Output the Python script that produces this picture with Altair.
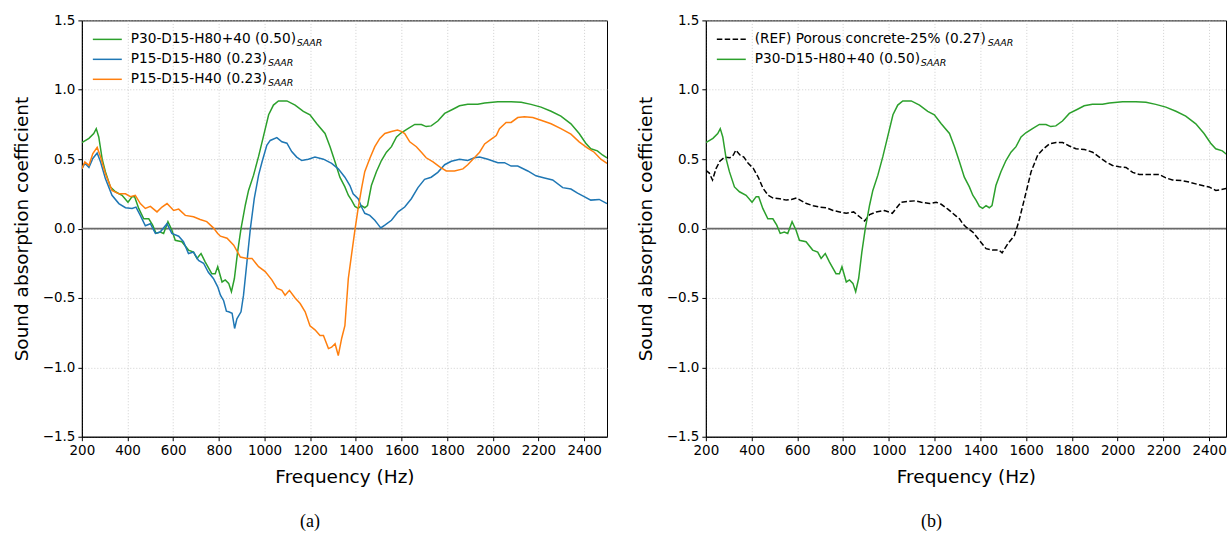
import altair as alt
import pandas as pd

# ---------------- data ----------------
FREQ_G = [200, 231, 252, 263, 274, 289, 303, 325, 347, 376, 402, 420, 431, 449, 471, 493, 510, 525, 543, 558,
          577, 594, 609, 638, 667, 689, 704, 722, 740, 769, 784, 795, 814, 828, 843, 855, 868, 882, 897, 916,
          930, 952, 974, 996, 1018, 1039, 1061, 1098, 1134, 1170, 1199, 1229, 1265, 1287, 1309, 1330, 1352, 1367,
          1381, 1396, 1410, 1425, 1439, 1451, 1468, 1490, 1512, 1534, 1556, 1578, 1599, 1628, 1658, 1687, 1708,
          1730, 1759, 1789, 1825, 1854, 1890, 1934, 1964, 2022, 2080, 2124, 2167, 2211, 2255, 2298, 2342, 2378,
          2407, 2429, 2458, 2480, 2500]
ALPHA_G = [0.62, 0.65, 0.685, 0.72, 0.66, 0.50, 0.41, 0.30, 0.265, 0.24, 0.19, 0.23, 0.23, 0.145, 0.07, 0.07,
           0.025, -0.035, -0.025, -0.035, 0.05, -0.01, -0.085, -0.095, -0.155, -0.17, -0.215, -0.18, -0.24,
           -0.325, -0.325, -0.275, -0.385, -0.37, -0.395, -0.455, -0.36, -0.17, 0.0, 0.17, 0.275, 0.385, 0.52,
           0.67, 0.82, 0.89, 0.92, 0.92, 0.89, 0.845, 0.82, 0.755, 0.685, 0.59, 0.48, 0.37, 0.30, 0.24, 0.205,
           0.16, 0.145, 0.165, 0.15, 0.165, 0.31, 0.41, 0.49, 0.55, 0.59, 0.66, 0.69, 0.72, 0.75, 0.75, 0.735,
           0.74, 0.775, 0.83, 0.86, 0.885, 0.895, 0.895, 0.905, 0.913, 0.913, 0.91, 0.895, 0.875, 0.845, 0.81,
           0.755, 0.685, 0.615, 0.575, 0.56, 0.53, 0.51]

FREQ_B = [200, 213, 231, 248, 267, 282, 303, 332, 362, 391, 420, 437, 456, 478, 500, 522, 543, 573, 594, 624,
          645, 667, 689, 711, 733, 754, 776, 795, 807, 821, 833, 843, 858, 869, 879, 897, 908, 923, 938, 955,
          974, 989, 1010, 1025, 1054, 1076, 1098, 1119, 1141, 1163, 1192, 1221, 1258, 1294, 1323, 1352, 1374,
          1388, 1410, 1425, 1439, 1461, 1483, 1497, 1509, 1527, 1556, 1585, 1614, 1643, 1672, 1701, 1730, 1759,
          1789, 1818, 1854, 1890, 1919, 1942, 1978, 2022, 2051, 2080, 2109, 2153, 2189, 2226, 2262, 2306, 2342,
          2371, 2400, 2429, 2466, 2500]
ALPHA_B = [0.43, 0.47, 0.44, 0.505, 0.545, 0.48, 0.36, 0.24, 0.18, 0.15, 0.145, 0.155, 0.095, 0.02, 0.035,
           -0.035, -0.025, 0.035, -0.035, -0.055, -0.095, -0.18, -0.17, -0.23, -0.25, -0.315, -0.36, -0.42,
           -0.48, -0.52, -0.595, -0.60, -0.61, -0.72, -0.65, -0.60, -0.48, -0.24, 0.0, 0.215, 0.385, 0.48, 0.60,
           0.635, 0.655, 0.625, 0.615, 0.555, 0.515, 0.49, 0.50, 0.515, 0.50, 0.47, 0.43, 0.37, 0.31, 0.25,
           0.215, 0.155, 0.11, 0.095, 0.06, 0.03, 0.005, 0.025, 0.06, 0.12, 0.155, 0.215, 0.295, 0.355, 0.37,
           0.405, 0.46, 0.485, 0.50, 0.49, 0.51, 0.515, 0.50, 0.475, 0.475, 0.45, 0.45, 0.415, 0.38, 0.365,
           0.35, 0.295, 0.285, 0.255, 0.23, 0.205, 0.21, 0.18]

FREQ_O = [200, 213, 231, 248, 267, 282, 303, 332, 362, 391, 413, 434, 456, 478, 500, 529, 551, 573, 602, 624,
          653, 689, 718, 747, 776, 795, 807, 836, 865, 894, 923, 945, 974, 1003, 1032, 1054, 1076, 1090, 1109,
          1134, 1156, 1178, 1199, 1221, 1243, 1258, 1280, 1294, 1309, 1323, 1338, 1352, 1367, 1381, 1396, 1410,
          1425, 1439, 1461, 1483, 1505, 1527, 1556, 1582, 1599, 1614, 1636, 1665, 1687, 1708, 1738, 1767, 1796,
          1832, 1869, 1890, 1919, 1942, 1964, 1993, 2015, 2029, 2058, 2080, 2109, 2138, 2175, 2211, 2255, 2298,
          2342, 2378, 2415, 2444, 2473, 2500]
ALPHA_O = [0.43, 0.48, 0.455, 0.54, 0.585, 0.515, 0.395, 0.275, 0.25, 0.25, 0.23, 0.24, 0.18, 0.145, 0.16,
           0.12, 0.155, 0.18, 0.13, 0.14, 0.095, 0.085, 0.065, 0.05, 0.005, -0.035, -0.055, -0.07, -0.12,
           -0.205, -0.215, -0.215, -0.275, -0.31, -0.37, -0.43, -0.445, -0.48, -0.445, -0.50, -0.54, -0.60,
           -0.70, -0.73, -0.77, -0.77, -0.865, -0.855, -0.83, -0.915, -0.79, -0.70, -0.36, -0.19, -0.01, 0.145,
           0.29, 0.41, 0.505, 0.59, 0.65, 0.685, 0.70, 0.71, 0.70, 0.685, 0.625, 0.59, 0.55, 0.51, 0.48, 0.445,
           0.415, 0.415, 0.43, 0.46, 0.51, 0.55, 0.61, 0.645, 0.67, 0.72, 0.765, 0.765, 0.80, 0.805, 0.80, 0.78,
           0.755, 0.72, 0.68, 0.625, 0.58, 0.55, 0.50, 0.47]

FREQ_R = [200, 215, 229, 244, 261, 283, 305, 320, 331, 349, 366, 385, 407, 429, 450, 472, 494, 523, 552, 574,
          596, 618, 640, 669, 698, 727, 756, 785, 814, 846, 872, 894, 916, 945, 981, 1015, 1032, 1054, 1083,
          1117, 1142, 1178, 1207, 1229, 1258, 1294, 1309, 1323, 1338, 1367, 1396, 1425, 1454, 1481, 1495, 1520,
          1549, 1568, 1593, 1622, 1651, 1673, 1702, 1731, 1760, 1789, 1818, 1855, 1891, 1920, 1949, 1978, 2007,
          2037, 2066, 2095, 2138, 2182, 2211, 2240, 2284, 2313, 2357, 2400, 2429, 2451, 2479, 2500]
ALPHA_R = [0.42, 0.40, 0.35, 0.43, 0.485, 0.515, 0.51, 0.53, 0.565, 0.53, 0.515, 0.47, 0.435, 0.37, 0.29,
           0.24, 0.22, 0.215, 0.205, 0.21, 0.22, 0.20, 0.18, 0.165, 0.155, 0.15, 0.13, 0.12, 0.11, 0.12, 0.085,
           0.055, 0.10, 0.12, 0.13, 0.11, 0.145, 0.19, 0.195, 0.20, 0.19, 0.18, 0.19, 0.175, 0.14, 0.09, 0.07,
           0.035, 0.01, -0.025, -0.085, -0.145, -0.155, -0.155, -0.175, -0.11, -0.05, 0.05, 0.215, 0.41, 0.53,
           0.57, 0.61, 0.62, 0.62, 0.595, 0.575, 0.57, 0.55, 0.515, 0.48, 0.455, 0.445, 0.44, 0.405, 0.39, 0.39,
           0.39, 0.365, 0.35, 0.345, 0.335, 0.315, 0.30, 0.275, 0.28, 0.29, 0.29]

X_TICKS = [200, 400, 600, 800, 1000, 1200, 1400, 1600, 1800, 2000, 2200, 2400]
Y_TICKS = [-1.5, -1.0, -0.5, 0.0, 0.5, 1.0, 1.5]

LABEL_G = "P30-D15-H80+40 (0.50)"
LABEL_B = "P15-D15-H80 (0.23)"
LABEL_O = "P15-D15-H40 (0.23)"
LABEL_R = "(REF) Porous concrete-25% (0.27)"
SUBSCRIPT = "SAAR"

C_G, C_B, C_O, C_R = "#2ca02c", "#1f77b4", "#ff7f0e", "#000000"
DASH = [5.5, 2.4]
FONT = "DejaVu Sans"
LEG_SIZE = 13.7

H = 417
W_LEFT = 526
W_RIGHT = 521

# DejaVu Sans advance widths (em) used only to place the subscript after each label
_ADV = {"P": .603, "R": .695, "E": .632, "F": .575, "D": .770, "H": .752, "(": .390, ")": .390,
        " ": .318, "-": .361, "+": .838, ".": .318, "%": .950, "o": .612, "r": .411, "u": .634,
        "s": .521, "c": .550, "n": .634, "e": .615, "t": .392}


def text_width(s, size):
    return sum(_ADV.get(ch, .636) for ch in s) * size


def line(freq, vals, color, xmax, dash=None):
    df = pd.DataFrame({"f": freq, "a": vals})
    kw = dict(color=color, strokeWidth=1.5, clip=True)
    if dash:
        kw["strokeDash"] = dash
    return alt.Chart(df).mark_line(**kw).encode(
        x=alt.X("f:Q", scale=alt.Scale(domain=[200, xmax], nice=False, zero=False),
                axis=alt.Axis(values=X_TICKS, format="d", title="Frequency (Hz)", labelFlush=False)),
        y=alt.Y("a:Q", scale=alt.Scale(domain=[-1.5, 1.5], nice=False),
                axis=alt.Axis(values=Y_TICKS, format=".1f", title="Sound absorption coefficient",
                              labelFlush=False)),
    )


def zero_rule():
    return alt.Chart(alt.Data(values=[{"a": 0}])).mark_rule(color="#6a6a6a", strokeWidth=1.8).encode(
        y=alt.Y("a:Q"))


def legend(entries):
    layers = []
    for i, (label, color, dash) in enumerate(entries):
        yp = 19 + 20 * i
        kw = dict(color=color, strokeWidth=1.5)
        if dash:
            kw["strokeDash"] = dash
        blank = alt.Data(values=[{}])
        layers.append(alt.Chart(blank).mark_rule(**kw).encode(
            x=alt.value(11), x2=alt.value(40), y=alt.value(yp)))
        layers.append(alt.Chart(blank).mark_text(
            align="left", baseline="middle", font=FONT, fontSize=LEG_SIZE, color="black").encode(
            x=alt.value(49), y=alt.value(yp), text=alt.value(label)))
        layers.append(alt.Chart(blank).mark_text(
            align="left", baseline="middle", font=FONT, fontSize=9.5, fontStyle="italic",
            color="black").encode(
            x=alt.value(49 + text_width(label, LEG_SIZE) + 0.5), y=alt.value(yp + 4),
            text=alt.value(SUBSCRIPT)))
    return layers


def caption(text):
    return alt.TitleParams(text, orient="bottom", frame="bounds", anchor="middle",
                           font="Liberation Serif", fontSize=18, fontWeight="normal",
                           color="black", offset=27)


left = alt.layer(
    zero_rule(),
    line(FREQ_G, ALPHA_G, C_G, 2500),
    line(FREQ_B, ALPHA_B, C_B, 2500),
    line(FREQ_O, ALPHA_O, C_O, 2500),
    *legend([(LABEL_G, C_G, None), (LABEL_B, C_B, None), (LABEL_O, C_O, None)]),
).properties(width=W_LEFT, height=H, title=caption("(a)"))

right = alt.layer(
    zero_rule(),
    line(FREQ_R, ALPHA_R, C_R, 2474, DASH),
    line(FREQ_G, ALPHA_G, C_G, 2474),
    *legend([(LABEL_R, C_R, DASH), (LABEL_G, C_G, None)]),
).properties(width=W_RIGHT, height=H, title=caption("(b)"))

chart = alt.hconcat(left, right, spacing=99, bounds="flush").properties(
    padding={"left": 11, "top": 12, "right": 0, "bottom": 0}
).configure(background="white").configure_axis(
    labelFont=FONT, labelFontSize=13.5, labelColor="black", labelPadding=3,
    titleFont=FONT, titleFontSize=18.5, titleFontWeight="normal", titleColor="black",
    tickColor="black", tickSize=4, tickWidth=1, domainColor="black", domainWidth=1,
    gridColor="#c4c4c4", gridDash=[1, 2], gridWidth=0.8,
).configure_axisY(titlePadding=11).configure_axisX(titlePadding=10).configure_view(
    stroke="black", strokeWidth=1
)

chart.save("out.html", embed_options={"renderer": "svg", "actions": False})
